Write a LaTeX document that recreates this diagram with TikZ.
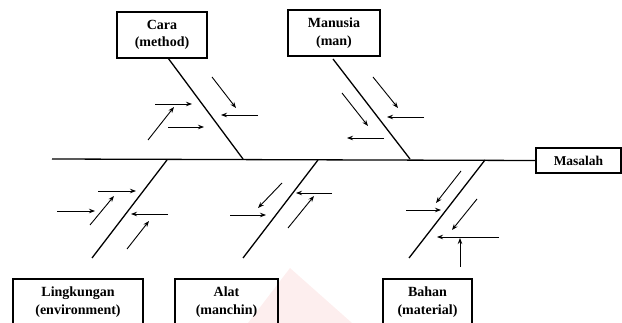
\documentclass[tikz,border=0pt]{standalone}
\usepackage{fontspec}
\setmainfont{Liberation Serif}
\usetikzlibrary{arrows.meta}
\definecolor{wm}{RGB}{253,238,238}
\tikzset{
  bonebox/.style={draw, line width=1.1pt, minimum width=#1, minimum height=46pt, align=center, inner sep=0pt, font=\fontsize{14}{17.5}\selectfont\bfseries},
  bone/.style={line width=1.3pt},
  arr/.style={line width=0.9pt, -{Stealth[length=6pt,width=4.5pt]}},
}
\begin{document}
\begin{tikzpicture}[x=1pt,y=-1pt]
\useasboundingbox (0,0) rectangle (622,323);
\clip (0,0) rectangle (622,323);
% watermark
\fill[wm] (290,268) -- (352,323) -- (248,323) -- cycle;
% boxes
\node[bonebox=90pt] (cara) at (162,35) {Cara\\(method)};
\node[bonebox=92pt] (man) at (334,33) {Manusia\\(man)};
\node[bonebox=130pt] (ling) at (78,302) {Lingkungan\\(environment)};
\node[bonebox=103pt] (alat) at (226.5,302) {Alat\\(manchin)};
\node[bonebox=89pt] (bahan) at (427.5,302) {Bahan\\(material)};
\node[draw, line width=1.1pt, minimum width=85pt, minimum height=25pt, inner sep=0pt, font=\fontsize{13.5}{14}\selectfont\bfseries] (mas) at (578.5,160.5) {Masalah};
% spine
\coordinate (s0) at (52,159);
\draw[bone] (s0) -- (mas.west);
% bone junctions
\coordinate (jc) at (243,159);
\coordinate (jm) at (410,159);
\coordinate (jl) at (167,160);
\coordinate (ja) at (318,160);
\coordinate (jb) at (485,160);
\coordinate (el) at (92,258);
\coordinate (ea) at (243,258);
\coordinate (eb) at (409,258);
\draw[bone] (168,58) -- (jc);
\draw[bone] (333,59) -- (jm);
\draw[bone] (jl) -- (el);
\draw[bone] (ja) -- (ea);
\draw[bone] (jb) -- (eb);
% Cara arrows
\draw[arr] (148,140) -- (174,107);
\draw[arr] (155,104) -- (192,104);
\draw[arr] (168,127) -- (204,127);
\draw[arr] (212,77) -- (236,108);
\draw[arr] (258,115) -- (221,115);
% Manusia arrows
\draw[arr] (342,93) -- (368,126);
\draw[arr] (384,138) -- (347,138);
\draw[arr] (373,77) -- (398,108);
\draw[arr] (424,117) -- (387,117);
% Lingkungan arrows
\draw[arr] (57,211) -- (95,211);
\draw[arr] (90,225) -- (114,196);
\draw[arr] (98,191) -- (136,191);
\draw[arr] (168,214) -- (131,214);
\draw[arr] (127,249) -- (149,221);
% Alat arrows
\draw[arr] (282,183) -- (258,208);
\draw[arr] (230,215) -- (266,215);
\draw[arr] (332,193) -- (296,193);
\draw[arr] (288,228) -- (314,196);
% Bahan arrows
\draw[arr] (461,171) -- (436,203);
\draw[arr] (406,210) -- (441,210);
\draw[arr] (477,199) -- (452,230);
\draw[arr] (499,237) -- (437,237);
\draw[arr] (460,267) -- (460,238);
\end{tikzpicture}
\end{document}
